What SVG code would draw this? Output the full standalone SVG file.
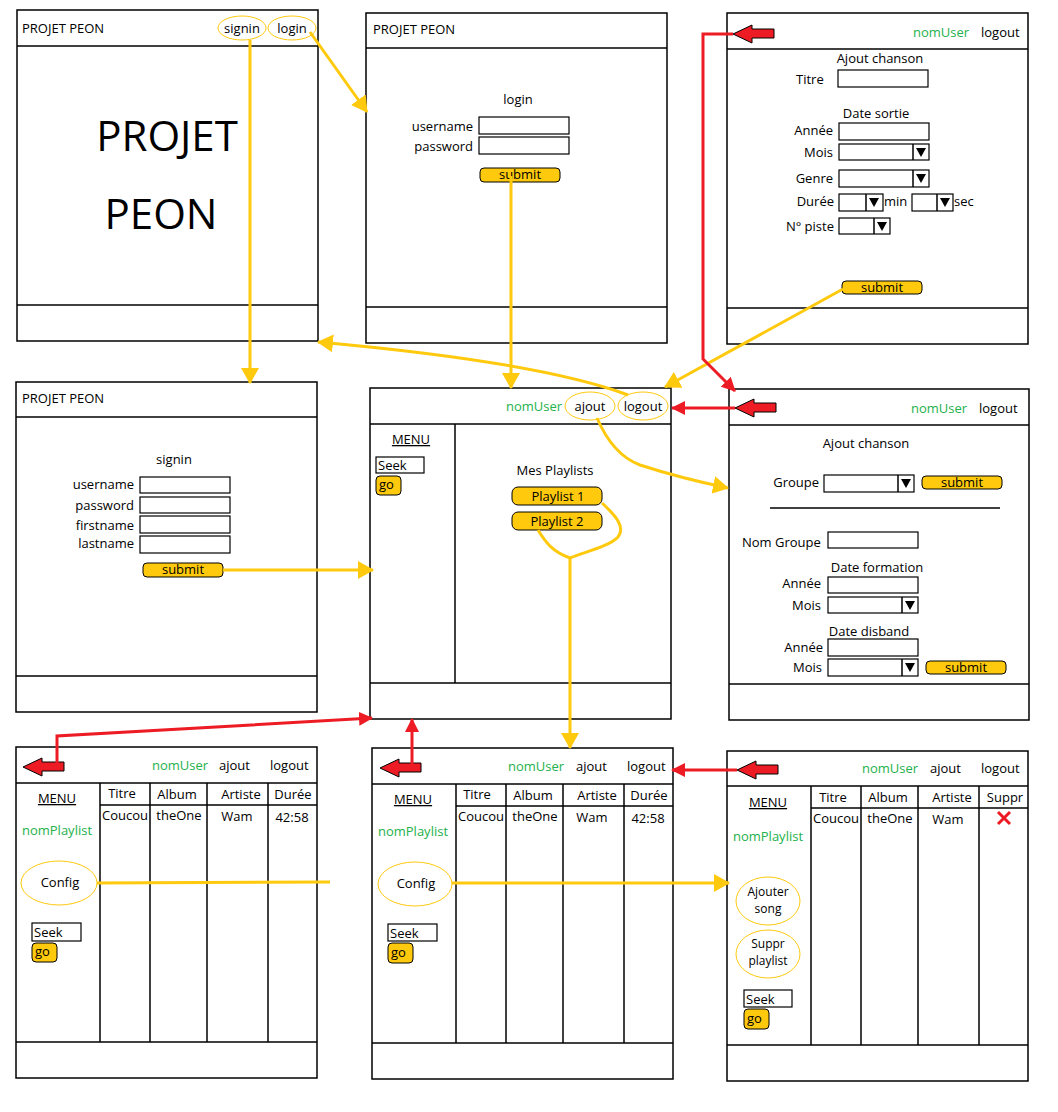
<svg xmlns="http://www.w3.org/2000/svg" xmlns:xlink="http://www.w3.org/1999/xlink" width="1058" height="1112" viewBox="0 0 1058 1112">
<style>
.frame{fill:#fff;stroke:#000;stroke-width:1.5}
.ln{stroke:#000;stroke-width:1.5;fill:none}
.t{font-family:"Open Sans","Noto Sans",sans-serif;font-size:13px;fill:#000}
.s12{font-size:12px}
.m{text-anchor:middle}
.e{text-anchor:end}
.g{fill:#22B14C}
.u{text-decoration:underline}
.big{font-size:42px}
.btn{fill:#FFC90E;stroke:#000;stroke-width:1}
.ov{fill:none;stroke:#FFC90E;stroke-width:1}
.box{fill:#fff;stroke:#000;stroke-width:1.2}
.tri{fill:#000}
.yc{fill:none;stroke:#FFC90E;stroke-width:3}
.rc{fill:none;stroke:#ED1C24;stroke-width:3}
.blk{fill:#ED1C24;stroke:#000;stroke-width:1}
</style>
<defs>
<marker id="ya" markerUnits="userSpaceOnUse" markerWidth="18" markerHeight="18" refX="15" refY="9" orient="auto"><path d="M0,0 L16,9 L0,18 Z" fill="#FFC90E"/></marker>
<marker id="ra" markerUnits="userSpaceOnUse" markerWidth="14" markerHeight="14" refX="13" refY="7" orient="auto"><path d="M0,0 L14,7 L0,14 Z" fill="#ED1C24"/></marker>
<path id="blkarrow" class="blk" d="M0,0 L19,-9 L19,-5 L41,-5 L41,4 L19,4 L19,9 Z"/>
</defs>

<g id="screen-home">
<rect class="frame" x="17" y="10" width="301" height="331"/>
<line class="ln" x1="17" y1="46" x2="318" y2="46"/>
<line class="ln" x1="17" y1="305" x2="318" y2="305"/>
<text class="t" x="22" y="33">PROJET PEON</text>
<ellipse class="ov" cx="242" cy="28" rx="24" ry="12"/>
<text class="t m" x="242" y="33">signin</text>
<ellipse class="ov" cx="292" cy="28" rx="24" ry="12"/>
<text class="t m" x="292" y="33">login</text>
<text class="t m big" x="167" y="151">PROJET</text>
<text class="t m big" x="161" y="229">PEON</text>
</g>

<g id="screen-login">
<rect class="frame" x="366" y="13" width="301" height="330"/>
<line class="ln" x1="366" y1="48" x2="667" y2="48"/>
<line class="ln" x1="366" y1="307" x2="667" y2="307"/>
<text class="t" x="373" y="34">PROJET PEON</text>
<text class="t m" x="518" y="104">login</text>
<text class="t e" x="473" y="131">username</text>
<rect class="box" x="479" y="117" width="90" height="17"/>
<text class="t e" x="473" y="151">password</text>
<rect class="box" x="479" y="137" width="90" height="17"/>
<rect class="btn" x="480" y="168" width="80" height="14" rx="4"/>
<text class="t m" x="520" y="179">submit</text>
</g>

<g id="screen-ajout-chanson">
<rect class="frame" x="727" y="13" width="301" height="331"/>
<line class="ln" x1="727" y1="49" x2="1028" y2="49"/>
<line class="ln" x1="727" y1="308" x2="1028" y2="308"/>
<use xlink:href="#blkarrow" x="733" y="34"/>
<text class="t g" x="913" y="37">nomUser</text>
<text class="t" x="981" y="37">logout</text>
<text class="t m" x="880" y="63">Ajout chanson</text>
<text class="t" x="796" y="84">Titre</text>
<rect class="box" x="838" y="70" width="90" height="17"/>
<text class="t m" x="876" y="118">Date sortie</text>
<text class="t e" x="833" y="135">Année</text>
<rect class="box" x="839" y="123" width="90" height="17"/>
<text class="t e" x="833" y="157">Mois</text>
<rect class="box" x="839" y="144" width="90" height="16"/>
<line class="ln" x1="913" y1="144" x2="913" y2="160"/>
<path class="tri" d="M916,148 L926,148 L921,157 Z"/>
<text class="t e" x="833" y="183">Genre</text>
<rect class="box" x="839" y="170" width="90" height="17"/>
<line class="ln" x1="913" y1="170" x2="913" y2="187"/>
<path class="tri" d="M916,174 L926,174 L921,183 Z"/>
<text class="t e" x="834" y="206">Durée</text>
<rect class="box" x="839" y="194" width="44" height="17"/>
<line class="ln" x1="866" y1="194" x2="866" y2="211"/>
<path class="tri" d="M869,198 L879,198 L874,207 Z"/>
<text class="t" x="884" y="206">min</text>
<rect class="box" x="912" y="194" width="41" height="17"/>
<line class="ln" x1="937" y1="194" x2="937" y2="211"/>
<path class="tri" d="M940,198 L950,198 L945,207 Z"/>
<text class="t" x="954" y="206">sec</text>
<text class="t e" x="834" y="231">N° piste</text>
<rect class="box" x="839" y="218" width="51" height="16"/>
<line class="ln" x1="874" y1="218" x2="874" y2="234"/>
<path class="tri" d="M877,222 L887,222 L882,231 Z"/>
<rect class="btn" x="842" y="281" width="80" height="13" rx="4"/>
<text class="t m" x="882" y="292">submit</text>
</g>

<g id="screen-signin">
<rect class="frame" x="16" y="382" width="301" height="330"/>
<line class="ln" x1="16" y1="417" x2="317" y2="417"/>
<line class="ln" x1="16" y1="676" x2="317" y2="676"/>
<text class="t" x="22" y="403">PROJET PEON</text>
<text class="t m" x="174" y="464">signin</text>
<text class="t e" x="134" y="489">username</text>
<rect class="box" x="140" y="477" width="90" height="16"/>
<text class="t e" x="134" y="510">password</text>
<rect class="box" x="140" y="497" width="90" height="16"/>
<text class="t e" x="134" y="530">firstname</text>
<rect class="box" x="140" y="516" width="90" height="17"/>
<text class="t e" x="134" y="548">lastname</text>
<rect class="box" x="140" y="536" width="90" height="17"/>
<rect class="btn" x="143" y="563" width="80" height="14" rx="4"/>
<text class="t m" x="183" y="574">submit</text>
</g>

<g id="screen-playlists">
<rect class="frame" x="370" y="388" width="301" height="331"/>
<line class="ln" x1="370" y1="424" x2="671" y2="424"/>
<line class="ln" x1="370" y1="683" x2="671" y2="683"/>
<line class="ln" x1="455" y1="424" x2="455" y2="683"/>
<text class="t g" x="506" y="411">nomUser</text>
<ellipse class="ov" cx="590" cy="406" rx="25" ry="14"/>
<text class="t m" x="590" y="411">ajout</text>
<ellipse class="ov" cx="643" cy="406" rx="25" ry="14"/>
<text class="t m" x="643" y="411">logout</text>
<text class="t m u" x="411" y="444">MENU</text>
<rect class="box" x="376" y="457" width="48" height="16"/>
<text class="t" x="378" y="470">Seek</text>
<rect class="btn" x="376" y="476" width="25" height="19" rx="4"/>
<text class="t" x="379" y="489">go</text>
<text class="t m" x="555" y="475">Mes Playlists</text>
<rect class="btn" x="512" y="487" width="90" height="18" rx="6"/>
<text class="t m" x="558" y="501">Playlist 1</text>
<rect class="btn" x="512" y="512" width="90" height="18" rx="6"/>
<text class="t m" x="557" y="526">Playlist 2</text>
</g>

<g id="screen-ajout-groupe">
<rect class="frame" x="729" y="389" width="300" height="331"/>
<line class="ln" x1="729" y1="425" x2="1029" y2="425"/>
<line class="ln" x1="729" y1="684" x2="1029" y2="684"/>
<use xlink:href="#blkarrow" x="735" y="408"/>
<text class="t g" x="911" y="413">nomUser</text>
<text class="t" x="979" y="413">logout</text>
<text class="t m" x="866" y="448">Ajout chanson</text>
<text class="t e" x="819" y="487">Groupe</text>
<rect class="box" x="824" y="475" width="90" height="17"/>
<line class="ln" x1="898" y1="475" x2="898" y2="492"/>
<path class="tri" d="M901,479 L911,479 L906,488 Z"/>
<rect class="btn" x="922" y="476" width="80" height="13" rx="4"/>
<text class="t m" x="962" y="487">submit</text>
<line class="ln" x1="770" y1="508" x2="1000" y2="508"/>
<text class="t" x="742" y="547">Nom Groupe</text>
<rect class="box" x="828" y="532" width="90" height="16"/>
<text class="t m" x="877" y="572">Date formation</text>
<text class="t e" x="821" y="588">Année</text>
<rect class="box" x="828" y="577" width="90" height="16"/>
<text class="t e" x="821" y="610">Mois</text>
<rect class="box" x="828" y="597" width="90" height="16"/>
<line class="ln" x1="902" y1="597" x2="902" y2="613"/>
<path class="tri" d="M905,601 L915,601 L910,610 Z"/>
<text class="t m" x="869" y="636">Date disband</text>
<text class="t e" x="823" y="652">Année</text>
<rect class="box" x="828" y="639" width="90" height="17"/>
<text class="t e" x="822" y="672">Mois</text>
<rect class="box" x="828" y="659" width="90" height="17"/>
<line class="ln" x1="902" y1="659" x2="902" y2="676"/>
<path class="tri" d="M905,663 L915,663 L910,672 Z"/>
<rect class="btn" x="926" y="661" width="80" height="13" rx="4"/>
<text class="t m" x="966" y="672">submit</text>
</g>

<g id="screen-playlist-view">
<rect class="frame" x="16" y="747" width="301" height="331"/>
<line class="ln" x1="16" y1="783" x2="317" y2="783"/>
<line class="ln" x1="16" y1="1042" x2="317" y2="1042"/>
<line class="ln" x1="100" y1="783" x2="100" y2="1042"/>
<line class="ln" x1="150" y1="783" x2="150" y2="1042"/>
<line class="ln" x1="207" y1="783" x2="207" y2="1042"/>
<line class="ln" x1="268" y1="783" x2="268" y2="1042"/>
<line class="ln" x1="100" y1="805" x2="317" y2="805"/>
<use xlink:href="#blkarrow" x="23" y="767"/>
<text class="t g" x="152" y="770">nomUser</text>
<text class="t" x="219" y="770">ajout</text>
<text class="t" x="270" y="770">logout</text>
<text class="t m" x="122" y="798">Titre</text>
<text class="t m" x="177" y="799">Album</text>
<text class="t m" x="241" y="799">Artiste</text>
<text class="t m" x="293" y="799">Durée</text>
<text class="t" x="102" y="820">Coucou</text>
<text class="t m" x="179" y="820">theOne</text>
<text class="t m" x="237" y="821">Wam</text>
<text class="t m" x="292" y="822">42:58</text>
<text class="t m u" x="57" y="803">MENU</text>
<text class="t m g" x="57" y="835">nomPlaylist</text>
<ellipse class="ov" cx="59" cy="883" rx="38" ry="22"/>
<text class="t m" x="60" y="887">Config</text>
<rect class="box" x="32" y="923" width="49" height="18"/>
<text class="t" x="34" y="937">Seek</text>
<rect class="btn" x="32" y="943" width="25" height="19" rx="4"/>
<text class="t" x="35" y="956">go</text>
</g>

<g id="screen-playlist-config">
<rect class="frame" x="372" y="748" width="301" height="331"/>
<line class="ln" x1="372" y1="784" x2="673" y2="784"/>
<line class="ln" x1="372" y1="1043" x2="673" y2="1043"/>
<line class="ln" x1="456" y1="784" x2="456" y2="1043"/>
<line class="ln" x1="506" y1="784" x2="506" y2="1043"/>
<line class="ln" x1="563" y1="784" x2="563" y2="1043"/>
<line class="ln" x1="624" y1="784" x2="624" y2="1043"/>
<line class="ln" x1="456" y1="806" x2="673" y2="806"/>
<use xlink:href="#blkarrow" x="380" y="768"/>
<text class="t g" x="508" y="771">nomUser</text>
<text class="t" x="576" y="771">ajout</text>
<text class="t" x="627" y="771">logout</text>
<text class="t m" x="477" y="799">Titre</text>
<text class="t m" x="533" y="800">Album</text>
<text class="t m" x="597" y="800">Artiste</text>
<text class="t m" x="649" y="800">Durée</text>
<text class="t" x="458" y="821">Coucou</text>
<text class="t m" x="535" y="821">theOne</text>
<text class="t m" x="592" y="822">Wam</text>
<text class="t m" x="648" y="823">42:58</text>
<text class="t m u" x="413" y="804">MENU</text>
<text class="t m g" x="413" y="836">nomPlaylist</text>
<ellipse class="ov" cx="415" cy="884" rx="37" ry="22"/>
<text class="t m" x="416" y="888">Config</text>
<rect class="box" x="388" y="924" width="49" height="17"/>
<text class="t" x="390" y="938">Seek</text>
<rect class="btn" x="388" y="943" width="25" height="20" rx="4"/>
<text class="t" x="391" y="957">go</text>
</g>

<g id="screen-playlist-edit">
<rect class="frame" x="727" y="751" width="301" height="330"/>
<line class="ln" x1="727" y1="786" x2="1028" y2="786"/>
<line class="ln" x1="727" y1="1045" x2="1028" y2="1045"/>
<line class="ln" x1="811" y1="786" x2="811" y2="1045"/>
<line class="ln" x1="861" y1="786" x2="861" y2="1045"/>
<line class="ln" x1="918" y1="786" x2="918" y2="1045"/>
<line class="ln" x1="979" y1="786" x2="979" y2="1045"/>
<line class="ln" x1="811" y1="808" x2="1028" y2="808"/>
<use xlink:href="#blkarrow" x="737" y="770"/>
<text class="t g" x="862" y="773">nomUser</text>
<text class="t" x="930" y="773">ajout</text>
<text class="t" x="981" y="773">logout</text>
<text class="t m" x="833" y="802">Titre</text>
<text class="t m" x="888" y="802">Album</text>
<text class="t m" x="952" y="802">Artiste</text>
<text class="t m" x="1005" y="802">Suppr</text>
<text class="t" x="813" y="823">Coucou</text>
<text class="t m" x="890" y="823">theOne</text>
<text class="t m" x="948" y="824">Wam</text>
<path class="rc" d="M998,812 L1010,824 M1010,812 L998,824"/>
<text class="t m u" x="768" y="807">MENU</text>
<text class="t m g" x="768" y="841">nomPlaylist</text>
<ellipse class="ov" cx="768" cy="901" rx="32" ry="24"/>
<text class="t m s12" x="768" y="896">Ajouter</text>
<text class="t m s12" x="768" y="913">song</text>
<ellipse class="ov" cx="768" cy="954" rx="32" ry="24"/>
<text class="t m s12" x="768" y="948">Suppr</text>
<text class="t m s12" x="768" y="965">playlist</text>
<rect class="box" x="744" y="990" width="48" height="17"/>
<text class="t" x="746" y="1004">Seek</text>
<rect class="btn" x="744" y="1009" width="25" height="20" rx="4"/>
<text class="t" x="747" y="1023">go</text>
</g>

<g id="connectors">
<path class="yc" d="M310,32 L367,112" marker-end="url(#ya)"/>
<path class="yc" d="M250,40 L250,383" marker-end="url(#ya)"/>
<path class="yc" d="M511,176 L511,388" marker-end="url(#ya)"/>
<path class="yc" d="M843,289 L665,387" marker-end="url(#ya)"/>
<path class="yc" d="M628,395 Q540,362 318,342" marker-end="url(#ya)"/>
<path class="yc" d="M223,570 L373,570" marker-end="url(#ya)"/>
<path class="yc" d="M597,418 Q613,455 640,465 Q680,478 728,488" marker-end="url(#ya)"/>
<path class="yc" d="M602,503 C615,515 626,527 618,537 C610,546 585,552 570,558"/>
<path class="yc" d="M538,530 C546,543 553,552 570,558"/>
<path class="yc" d="M570,558 L570,748" marker-end="url(#ya)"/>
<path class="yc" d="M97,883 L330,882"/>
<path class="yc" d="M452,883 L729,883" marker-end="url(#ya)"/>
<path class="rc" d="M733,34 L703,34 L703,359 L735,391" marker-end="url(#ra)"/>
<path class="rc" d="M735,408 L672,408" marker-end="url(#ra)"/>
<path class="rc" d="M57,765 L57,736 L372,718" marker-end="url(#ra)"/>
<path class="rc" d="M412,766 L412,719" marker-end="url(#ra)"/>
<path class="rc" d="M737,770 L672,770" marker-end="url(#ra)"/>
</g>
</svg>
